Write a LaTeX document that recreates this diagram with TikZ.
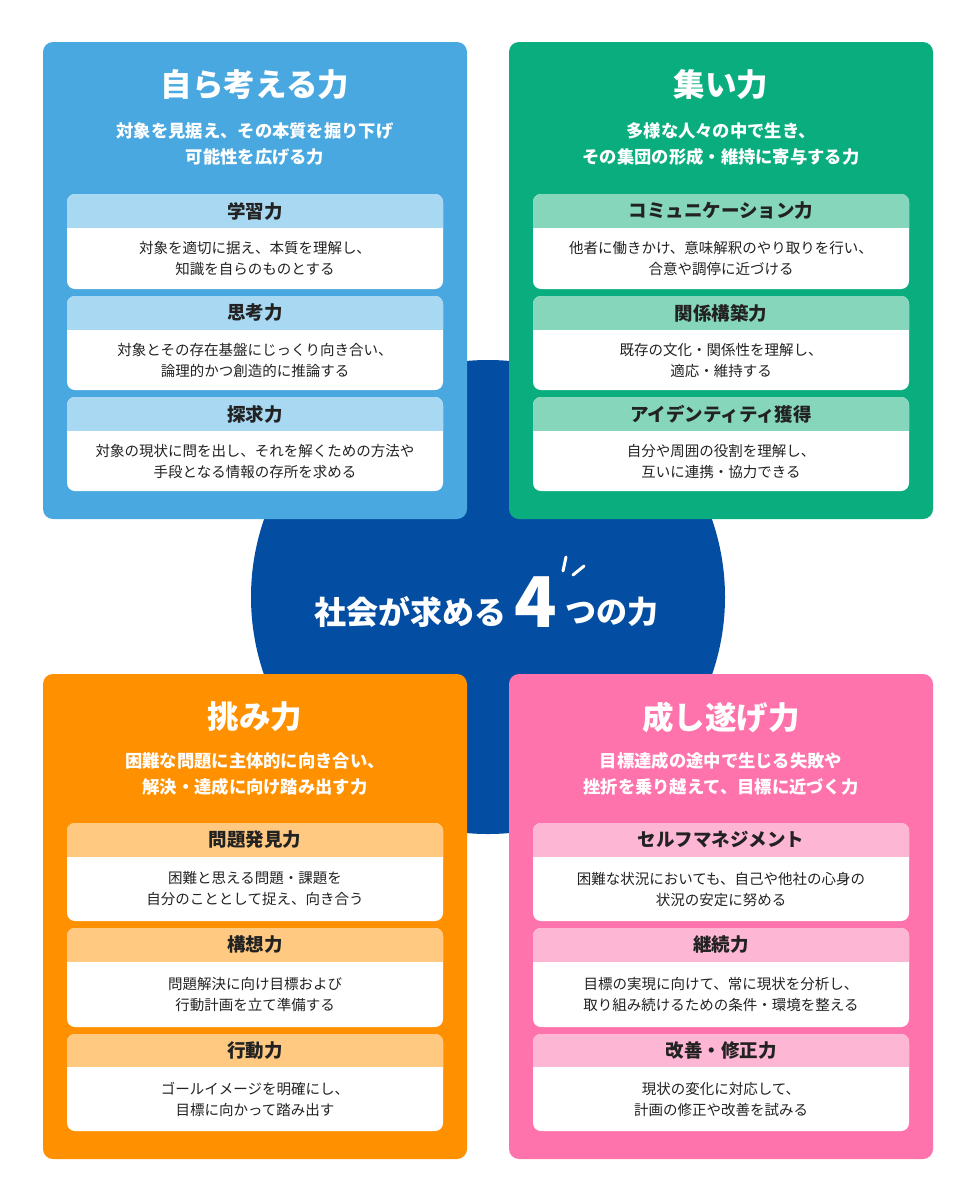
\documentclass[tikz,border=0pt]{standalone}
\usepackage{fontspec}
\setmainfont{Noto Sans CJK JP}
\usetikzlibrary{positioning}
\definecolor{circblue}{HTML}{034EA2}
\definecolor{panblue}{HTML}{4AA8E0}
\definecolor{hdblue}{HTML}{A8D8F2}
\definecolor{pangreen}{HTML}{0AAD7E}
\definecolor{hdgreen}{HTML}{86D6BC}
\definecolor{panorange}{HTML}{FF9100}
\definecolor{hdorange}{HTML}{FFC982}
\definecolor{panpink}{HTML}{FF73AC}
\definecolor{hdpink}{HTML}{FDB6D3}
\definecolor{ink}{HTML}{222222}
\tikzset{
  paneltitle/.style={text=white,font=\fontsize{31.5}{34}\selectfont\bfseries},
  panelsub/.style={text=white,align=center,font=\fontsize{17.3}{26}\selectfont\bfseries},
  subtitle/.style={text=ink,font=\fontsize{18.5}{20}\selectfont\bfseries},
  subtext/.style={text=ink,align=center,font=\fontsize{14.5}{21}\selectfont},
}
% #1 left x, #2 top y, #3 header bottom y, #4 bottom y, #5 header colour, #6 name, #7 title, #8 text
\newcommand{\subbox}[8]{
  \fill[white,rounded corners=8] (#1,#2) rectangle (#1+376,#4);
  \fill[#5,rounded corners=8] (#1,#2) rectangle (#1+376,#3+12);
  \fill[white] (#1,#3) rectangle (#1+376,#3+14);
  \node[subtitle] (#6h) at (#1+188,#2/2+#3/2) {#7};
  \node[subtext] (#6t) at (#1+188,#3/2+#4/2) {#8};
}
\begin{document}
\begin{tikzpicture}[x=1pt,y=-1pt]
\useasboundingbox (0,0) rectangle (976,1200);
\fill[white] (0,0) rectangle (976,1200);
% centre circle
\fill[circblue] (488,597) circle (237);
% panels
\fill[panblue,rounded corners=10] (43,42) rectangle (467,519);
\fill[pangreen,rounded corners=10] (509,42) rectangle (933,519);
\fill[panorange,rounded corners=10] (43,674) rectangle (467,1159);
\fill[panpink,rounded corners=10] (509,674) rectangle (933,1159);
% top left
\node[paneltitle] (tlt) at (255,85) {自ら考える力};
\node[panelsub] (tls) at (255,144) {対象を見据え、その本質を掘り下げ\\可能性を広げる力};
\subbox{67}{194}{228}{289}{hdblue}{tla}{学習力}{対象を適切に据え、本質を理解し、\\知識を自らのものとする}
\subbox{67}{296}{330}{390}{hdblue}{tlb}{思考力}{対象とその存在基盤にじっくり向き合い、\\論理的かつ創造的に推論する}
\subbox{67}{397}{431}{491}{hdblue}{tlc}{探求力}{対象の現状に問を出し、それを解くための方法や\\手段となる情報の存所を求める}
% top right
\node[paneltitle] (trt) at (721,85) {集い力};
\node[panelsub] (trs) at (721,144) {多様な人々の中で生き、\\その集団の形成・維持に寄与する力};
\subbox{533}{194}{228}{289}{hdgreen}{tra}{コミュニケーション力}{他者に働きかけ、意味解釈のやり取りを行い、\\合意や調停に近づける}
\subbox{533}{296}{330}{390}{hdgreen}{trb}{関係構築力}{既存の文化・関係性を理解し、\\適応・維持する}
\subbox{533}{397}{431}{491}{hdgreen}{trc}{アイデンティティ獲得}{自分や周囲の役割を理解し、\\互いに連携・協力できる}
% bottom left
\node[paneltitle] (blt) at (255,717) {挑み力};
\node[panelsub] (bls) at (255,774) {困難な問題に主体的に向き合い、\\解決・達成に向け踏み出す力};
\subbox{67}{823}{857}{921}{hdorange}{bla}{問題発見力}{困難と思える問題・課題を\\自分のこととして捉え、向き合う}
\subbox{67}{928}{962}{1027}{hdorange}{blb}{構想力}{問題解決に向け目標および\\行動計画を立て準備する}
\subbox{67}{1034}{1067}{1131}{hdorange}{blc}{行動力}{ゴールイメージを明確にし、\\目標に向かって踏み出す}
% bottom right
\node[paneltitle] (brt) at (721,717) {成し遂げ力};
\node[panelsub] (brs) at (721,774) {目標達成の途中で生じる失敗や\\挫折を乗り越えて、目標に近づく力};
\subbox{533}{823}{857}{921}{hdpink}{bra}{セルフマネジメント}{困難な状況においても、自己や他社の心身の\\状況の安定に努める}
\subbox{533}{928}{962}{1027}{hdpink}{brb}{継続力}{目標の実現に向けて、常に現状を分析し、\\取り組み続けるための条件・環境を整える}
\subbox{533}{1034}{1067}{1131}{hdpink}{brc}{改善・修正力}{現状の変化に対応して、\\計画の修正や改善を試みる}
% centre text
\node[text=white,font=\fontsize{70}{70}\selectfont\bfseries] (four) at (536,602) {4};
\node[text=white,font=\fontsize{32}{34}\selectfont\bfseries,anchor=east] (cl) at (510,612) {社会が求める};
\node[text=white,font=\fontsize{31}{34}\selectfont\bfseries,anchor=west] (cr) at (562,612) {つの力};
\draw[white,line width=3,line cap=round] (566,557) -- (563,571);
\draw[white,line width=3,line cap=round] (584,566) -- (573,575);
\end{tikzpicture}
\end{document}
